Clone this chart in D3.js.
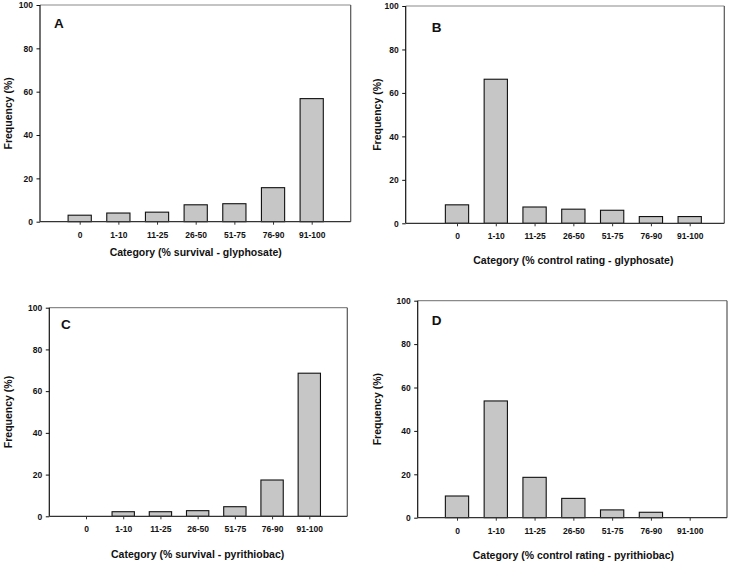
<!DOCTYPE html>
<html>
<head>
<meta charset="utf-8">
<script src="https://cdn.jsdelivr.net/npm/d3@7"></script>
<style>
  html, body { margin: 0; padding: 0; background: #fff; }
  svg { display: block; }
  text { font-family: "Liberation Sans", Arial, sans-serif; font-weight: bold; fill: #111; }
</style>
</head>
<body>
<svg id="chart" width="731" height="563"></svg>
<script>
// ---- data ----
const categories = ["0", "1-10", "11-25", "26-50", "51-75", "76-90", "91-100"];
const valuesA = [3.0, 4.0, 4.4, 7.8, 8.3, 15.7, 56.8];   // % survival - glyphosate
const valuesB = [8.5, 66.3, 7.5, 6.5, 6.0, 3.1, 3.1];    // % control rating - glyphosate
const valuesC = [0, 2.2, 2.2, 2.7, 4.6, 17.4, 68.6];     // % survival - pyrithiobac
const valuesD = [10.0, 53.8, 18.6, 8.9, 3.6, 2.5, 0];    // % control rating - pyrithiobac
const yTicks = [0, 20, 40, 60, 80, 100];
const panelLetters = ["A", "B", "C", "D"];
const xTitles = [
  "Category (% survival - glyphosate)",
  "Category (% control rating - glyphosate)",
  "Category (% survival - pyrithiobac)",
  "Category (% control rating - pyrithiobac)"
];
const yTitle = "Frequency (%)";

// ---- layout (pixel geometry of each panel) ----
const layouts = [
  { left: 40,    right: 350.7, top: 5,     bottom: 221.7, c0: 79.7, c6: 311.7, lx: 54,    ly: 27.7,  ytx: 11.5,  xtY: 255.5, tlY: 238.5 },
  { left: 405.7, right: 724.3, top: 6,     bottom: 223.3, c0: 457,  c6: 689.7, lx: 431.7, ly: 31.5,  ytx: 380.5, xtY: 264,   tlY: 239.5 },
  { left: 49.3,  right: 347.3, top: 307.7, bottom: 516.3, c0: 86,   c6: 309.3, lx: 61,    ly: 329.3, ytx: 11.5,  xtY: 557.5, tlY: 532.5 },
  { left: 417.7, right: 727,   top: 300.7, bottom: 517.7, c0: 457,  c6: 689.7, lx: 431.7, ly: 325,   ytx: 380.5, xtY: 559,   tlY: 534 }
];
const seriesList = [valuesA, valuesB, valuesC, valuesD];

const svg = d3.select("#chart");

layouts.forEach((L, i) => {
  const values = seriesList[i];
  const g = svg.append("g");

  const y = d3.scaleLinear().domain([0, 100]).range([L.bottom, L.top]);
  const x = d3.scalePoint().domain(categories).range([L.c0, L.c6]);
  const bw = x.step() * 0.6;

  // frame top & right (gray)
  g.append("line").attr("x1", L.left).attr("x2", L.right).attr("y1", L.top).attr("y2", L.top)
    .attr("stroke", "#8a8a8a").attr("stroke-width", 1.2);
  g.append("line").attr("x1", L.right).attr("x2", L.right).attr("y1", L.top).attr("y2", L.bottom)
    .attr("stroke", "#555").attr("stroke-width", 1.2);

  // bars
  g.selectAll("rect.bar")
    .data(categories.map((c, k) => ({ c, v: values[k] })).filter(d => d.v > 0))
    .enter().append("rect")
    .attr("class", "bar")
    .attr("x", d => x(d.c) - bw / 2)
    .attr("width", bw)
    .attr("y", d => y(d.v))
    .attr("height", d => L.bottom - y(d.v))
    .attr("fill", "#c6c6c6")
    .attr("stroke", "#111")
    .attr("stroke-width", 1.1);

  // y axis
  const yAxis = d3.axisLeft(y).tickValues(yTicks).tickSize(3.5).tickPadding(3.5).tickFormat(d3.format("d"));
  const ya = g.append("g").attr("transform", `translate(${L.left},0)`).call(yAxis);
  ya.select(".domain").attr("stroke", "#111").attr("stroke-width", 1.2).attr("d", `M0,${L.top}V${L.bottom}`);
  ya.selectAll(".tick line").attr("stroke", "#111");
  ya.selectAll(".tick text").attr("font-size", 8.5).attr("font-family", "Liberation Sans, Arial, sans-serif")
    .attr("font-weight", "bold").attr("fill", "#111");

  // x axis
  const xAxis = d3.axisBottom(x).tickSize(3).tickPadding(0).tickFormat(d => d);
  const xa = g.append("g").attr("transform", `translate(0,${L.bottom})`).call(xAxis);
  xa.select(".domain").attr("stroke", "#333").attr("stroke-width", 1.2).attr("d", `M${L.left},0H${L.right}`);
  xa.selectAll(".tick line").attr("stroke", "#333");
  xa.selectAll(".tick text")
    .attr("font-size", 8.5).attr("font-family", "Liberation Sans, Arial, sans-serif")
    .attr("font-weight", "bold").attr("fill", "#111")
    .attr("dy", null)
    .attr("y", L.tlY - L.bottom);

  // panel letter
  g.append("text").attr("x", L.lx).attr("y", L.ly).attr("font-size", 13.5).text(panelLetters[i]);

  // x title
  g.append("text").attr("x", (L.c0 + L.c6) / 2).attr("y", L.xtY)
    .attr("text-anchor", "middle").attr("font-size", 10.5).text(xTitles[i]);

  // y title
  g.append("text")
    .attr("transform", `translate(${L.ytx},${(L.top + L.bottom) / 2}) rotate(-90)`)
    .attr("text-anchor", "middle").attr("font-size", 10.5).text(yTitle);
});
</script>
</body>
</html>
